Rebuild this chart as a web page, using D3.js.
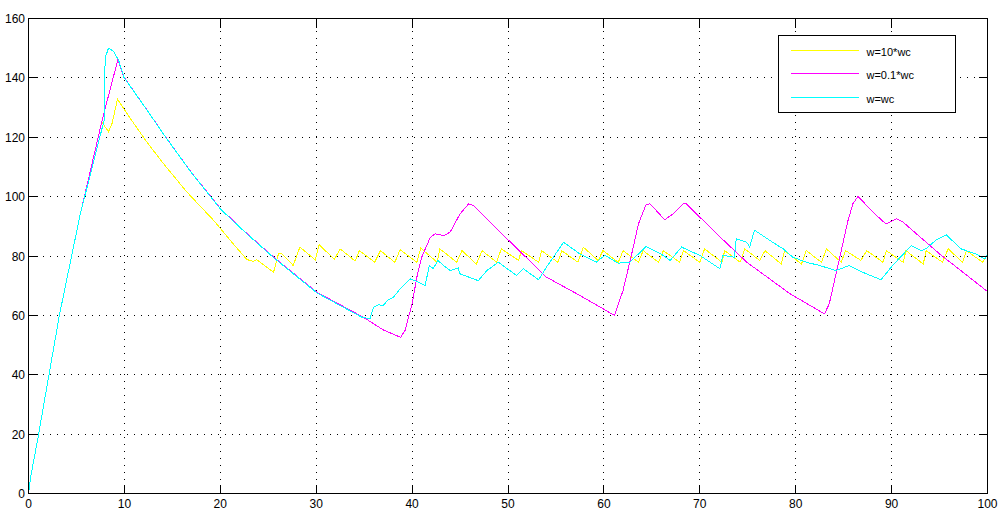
<!DOCTYPE html>
<html>
<head>
<meta charset="utf-8">
<script src="https://cdn.jsdelivr.net/npm/d3@7"></script>
<style>
  html, body { margin: 0; padding: 0; background: #ffffff; }
  svg { display: block; }
  .tick-label { font-family: "Liberation Sans Narrow", "Arial Narrow", "Liberation Sans", Arial, sans-serif; font-size: 12px; fill: #000; }
  .legend-text { font-family: "Liberation Sans", Arial, sans-serif; font-size: 11px; fill: #000; }
</style>
</head>
<body>
<svg id="chart" width="1003" height="519"></svg>
<script>
// ---- Data ----
const xTicks = [0, 10, 20, 30, 40, 50, 60, 70, 80, 90, 100];
const yTicks = [0, 20, 40, 60, 80, 100, 120, 140, 160];
const seriesNames = ["w=10*wc", "w=0.1*wc", "w=wc"];
const seriesColors = ["#ffff00", "#ff00ff", "#00ffff"];

// w=10*wc  (yellow)
const yellowData = [
  [0,0],[0.25,6],[1,19],[3.23,60.2],[5.39,94],[7.65,125.3],[8.0,123.4],[8.34,121.9],[8.7,124.5],[9.28,132.8],
  [10.6,126.4],[12.36,118.3],[14.1,111],[16.5,101.6],[19.3,92],[21.03,85.3],[22.77,78.8],[23.46,78.2],[23.8,78.8],
  [25.55,74.5],[26.07,80.8],[26.4,80.8],[27.6,76.8],[28.3,83],[29.9,78.7],[30.3,83.8],[31.9,78.9],[32.5,82.4],
  [34.06,78.3],[34.5,81.8],[36.1,77.9],[36.7,81.8],[38.2,77.9],[38.75,82.1],[40.5,77.9],[40.9,82.7],[42.6,77.9],
  [42.9,82.4],[44.65,77.9],[45.2,81.8],[46.7,77.3],[47.3,81.8],[48.8,77.9],[49.3,82.4],[51.1,78.5],[51.4,81.8],
  [53.2,77.9],[53.5,81.8],[55.2,77.9],[55.6,81.8],[57.3,77.9],[57.85,83],[59.4,78.5],[59.9,81.8],[61.5,77.9],
  [62,81.8],[63.6,77.9],[64.1,81.8],[65.7,77.9],[66.2,81.8],[67.9,77.9],[68.3,81.8],[70,77.9],[70.5,82.4],
  [72.3,77.9],[72.6,81.8],[74.2,77.9],[74.7,82.4],[76.25,78.5],[76.8,81.8],[78.5,77.3],[78.85,81.8],[80.6,77.3],
  [81.1,81.8],[82.7,77.9],[83.2,82.4],[84.75,77.9],[85.2,81.8],[86.8,78.5],[87.4,81.8],[89.1,77.9],[89.45,81.8],
  [91.2,77.9],[91.5,81.8],[93.3,77.3],[93.6,81.8],[95.3,77.9],[95.9,82.4],[97.4,77.9],[97.8,81.8],[99.5,77.9],
  [99.86,80],[100,80.5]
];

// w=0.1*wc  (magenta)
const magentaData = [
  [0,0],[0.25,6],[1,19],[3.23,60.2],[5.39,94],[7.65,125.3],[8.5,136],[9.32,146.1],[9.9,140.5],[12.4,129],
  [14.1,121],[16.9,108.5],[20,96],[22.8,87.5],[25.6,79.5],[30.07,67.8],[34.9,59.4],[37,55.1],[38.8,52.6],
  [39.27,55],[40,63.9],[40.5,72.9],[41,79.6],[41.9,86.3],[42.4,87.5],[43.3,86.9],[43.96,88],[45,94.2],[45.9,97.6],
  [46.4,97],[49.9,85.8],[54,72.9],[57.5,66.7],[61.1,60],[62,68.4],[62.9,80.7],[63.6,90.8],[64.4,97.3],[64.8,97.6],
  [66.35,92.2],[67.2,94.2],[68.3,97.6],[68.6,97.6],[71.4,88.6],[74.9,77.9],[79.4,67.3],[83,60.5],[83.5,63.9],
  [84.6,79.6],[85.45,91.9],[85.97,97.6],[86.5,100.1],[88.05,94.8],[89.4,90.8],[90.5,92.5],[91.2,91.4],[95,80.7],
  [99.86,68.4],[100,68]
];

// w=wc  (cyan)
const cyanData = [
  [0,0],[0.25,6],[1,19],[3.23,60.2],[5.39,94],[7.9,125.9],[7.95,140],[8.0,146.8],[8.34,150],[8.6,149.5],
  [8.86,148.9],[9.38,146.1],[9.95,140.2],[12.45,128.7],[14.15,120.7],[16.95,108.2],[20.05,95.7],[22.85,87.2],
  [25.65,79.2],[30.1,67.5],[34.75,59.4],[35.6,58.8],[35.97,62.7],[36.5,63.6],[37,63.3],[37.4,65],[38.05,66.1],
  [38.75,68.9],[39.8,72.3],[40.5,71.5],[41.35,70],[41.8,76.8],[42.2,75.8],[42.7,78.5],[43.2,77],[43.96,75.1],
  [44.8,76],[45,74],[46.9,71.7],[47.8,75.1],[49,77.9],[50.9,73.4],[51.6,75.7],[53.2,72],[54,76.2],[55.8,84.6],
  [57.5,80.7],[59.2,77.9],[60.1,80.2],[61.5,77.6],[62.7,77.9],[64.4,83.2],[66.2,80.2],[66.9,78.5],[68.1,83],
  [70,80.2],[72.1,75.7],[72.4,80.2],[73.6,79.6],[73.8,85.8],[74.9,84.6],[75.2,83],[75.7,88.7],[77.6,84.6],
  [78.7,82.4],[79.7,79.6],[81.1,77.9],[82.5,76.8],[84.2,75.1],[85.6,76.8],[87,74.5],[88.9,72],[90.1,76.8],
  [92.05,83.5],[93.1,81.8],[93.6,82.5],[94.65,85.4],[95.7,87.1],[97.25,82.4],[98.8,80.7],[99.7,79],[100,80.5]
];

const allSeries = [yellowData, magentaData, cyanData];

// ---- Layout ----
const svg = d3.select("#chart");
const x = d3.scaleLinear().domain([0, 100]).range([28.5, 987.5]);
const y = d3.scaleLinear().domain([0, 160]).range([493.5, 18.5]);
const tickLen = 9;

svg.append("rect").attr("x", 0).attr("y", 0).attr("width", 1003).attr("height", 519).attr("fill", "#ffffff");

// grid
const grid = svg.append("g").attr("stroke", "#000").attr("stroke-width", 1)
  .attr("stroke-dasharray", "1,6").attr("shape-rendering", "crispEdges");
xTicks.slice(1, -1).forEach(t => {
  grid.append("line").attr("x1", x(t)).attr("x2", x(t)).attr("y1", y(0)).attr("y2", y(160));
});
yTicks.slice(1, -1).forEach(t => {
  grid.append("line").attr("x1", x(0)).attr("x2", x(100)).attr("y1", y(t)).attr("y2", y(t));
});

// series
const line = d3.line().x(d => x(d[0])).y(d => y(d[1]));
allSeries.forEach((data, i) => {
  svg.append("path").datum(data).attr("d", line)
    .attr("fill", "none").attr("stroke", seriesColors[i]).attr("stroke-width", 1)
    .attr("shape-rendering", "crispEdges");
});

// axes box & ticks (inward on all four sides)
const axes = svg.append("g").attr("stroke", "#000").attr("stroke-width", 1).attr("shape-rendering", "crispEdges");
axes.append("rect").attr("x", x(0)).attr("y", y(160)).attr("width", x(100) - x(0)).attr("height", y(0) - y(160)).attr("fill", "none");
xTicks.forEach(t => {
  axes.append("line").attr("x1", x(t)).attr("x2", x(t)).attr("y1", y(0)).attr("y2", y(0) - tickLen);
  axes.append("line").attr("x1", x(t)).attr("x2", x(t)).attr("y1", y(160)).attr("y2", y(160) + tickLen);
});
yTicks.forEach(t => {
  axes.append("line").attr("x1", x(0)).attr("x2", x(0) + tickLen).attr("y1", y(t)).attr("y2", y(t));
  axes.append("line").attr("x1", x(100)).attr("x2", x(100) - tickLen).attr("y1", y(t)).attr("y2", y(t));
});

// tick labels
svg.append("g").selectAll("text").data(xTicks).join("text")
  .attr("class", "tick-label").attr("x", d => x(d)).attr("y", 508)
  .attr("text-anchor", "middle").text(d => d);
svg.append("g").selectAll("text").data(yTicks).join("text")
  .attr("class", "tick-label").attr("x", 25).attr("y", d => y(d) + 4.5)
  .attr("text-anchor", "end").text(d => d);

// legend
const lg = svg.append("g");
lg.append("rect").attr("x", 778.5).attr("y", 35.5).attr("width", 177).attr("height", 77)
  .attr("fill", "#fff").attr("stroke", "#000").attr("shape-rendering", "crispEdges");
const legendY = [50.5, 73.5, 97.5];
seriesNames.forEach((name, i) => {
  lg.append("line").attr("x1", 791).attr("x2", 859).attr("y1", legendY[i]).attr("y2", legendY[i])
    .attr("stroke", seriesColors[i]).attr("stroke-width", 1).attr("shape-rendering", "crispEdges");
  lg.append("text").attr("class", "legend-text").attr("x", 866.5).attr("y", legendY[i] + 5.5).text(name);
});
</script>
</body>
</html>
